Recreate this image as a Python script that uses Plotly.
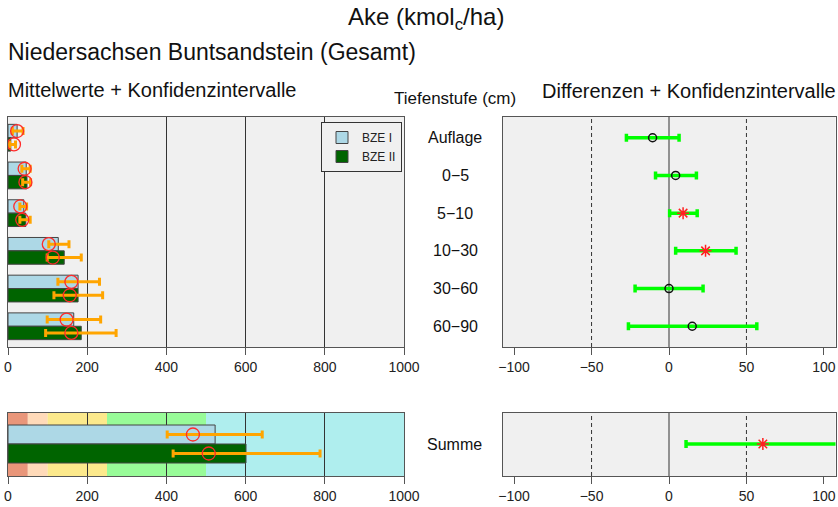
import plotly.graph_objects as go

# ---------------- data ----------------
depths = ["Auflage", "0−5", "5−10", "10−30", "30−60", "60−90"]
series_names = ["BZE I", "BZE II"]

# left panel: bar value, circle value, CI low / high
bze1_bar = [23, 46, 40, 127, 177, 166]
bze2_bar = [7, 48, 45, 142, 177, 185]
bze1_circle = [23, 42, 31, 103, 160, 148]
bze2_circle = [15, 44, 36, 113, 156, 160]
bze1_lo = [11, 35, 30, 103, 126, 99]
bze1_hi = [38, 56, 47, 154, 231, 234]
bze2_lo = [4, 37, 30, 99, 116, 95]
bze2_hi = [19, 57, 56, 185, 239, 273]

# sum ("Summe")
sum_label = "Summe"
sum_bar = [523, 601]
sum_circle = [467, 507]
sum_lo = [402, 417]
sum_hi = [642, 788]

# right panel: differences with CI
diff = [-10.6, 4.3, 9.1, 23.6, 0.0, 15.0]
diff_lo = [-27.5, -8.7, 0.4, 4.3, -21.9, -26.2]
diff_hi = [6.5, 17.7, 18.2, 43.3, 22.0, 56.7]
diff_sig = [False, False, True, True, False, False]
sum_diff = [60.6]
sum_diff_lo = [11.0]
sum_diff_hi = [115.0]

# background classes for the sum panel
band_edges = [0, 50, 100, 250, 500, 1000]
band_colors = ["#E9967A", "#FFDAB9", "#FCE98C", "#98FB98", "#AFEEEE"]

left_ticks = [0, 200, 400, 600, 800, 1000]
right_ticks = [-100, -50, 0, 50, 100]
ref_lines = [-50, 0, 50]

# ---------------- figure ----------------
W, H = 838, 507
FONT = "Liberation Sans, Arial, sans-serif"

def fx(p):
    return p / W

def fy(p):
    return 1 - p / H

col1 = "#ADD8E6"
col2 = "#006400"
ci_col = "#FFA500"
circ_col = "#FF2A2A"
green = "#00FF00"

rows = list(range(len(depths)))
bh = 0.355

fig = go.Figure()

# ---- top-left: bars
fig.add_trace(go.Bar(x=bze1_bar, y=rows, orientation="h", width=bh, offset=-bh,
                     marker=dict(color=col1, line=dict(color="#444", width=1)),
                     name=series_names[0], xaxis="x", yaxis="y", showlegend=True))
fig.add_trace(go.Bar(x=bze2_bar, y=rows, orientation="h", width=bh, offset=0,
                     marker=dict(color=col2, line=dict(color="#444", width=1)),
                     name=series_names[1], xaxis="x", yaxis="y", showlegend=True))

def ci_trace(xc, lo, hi, ys, xa, ya):
    return go.Scatter(
        x=xc, y=ys, mode="markers", xaxis=xa, yaxis=ya, showlegend=False,
        marker=dict(symbol="circle-open", size=13, color=circ_col,
                    line=dict(width=1.3, color=circ_col)),
        error_x=dict(type="data", symmetric=False,
                     array=[h - c for h, c in zip(hi, xc)],
                     arrayminus=[c - l for c, l in zip(xc, lo)],
                     color=ci_col, thickness=3, width=4))

fig.add_trace(ci_trace(bze1_circle, bze1_lo, bze1_hi, [r - bh / 2 for r in rows], "x", "y"))
fig.add_trace(ci_trace(bze2_circle, bze2_lo, bze2_hi, [r + bh / 2 for r in rows], "x", "y"))

# ---- bottom-left: sum bars
fig.add_trace(go.Bar(x=[sum_bar[0]], y=[0], orientation="h", width=1, offset=-1,
                     marker=dict(color=col1, line=dict(color="#444", width=1)),
                     name=series_names[0], xaxis="x2", yaxis="y2", showlegend=False))
fig.add_trace(go.Bar(x=[sum_bar[1]], y=[0], orientation="h", width=1, offset=0,
                     marker=dict(color=col2, line=dict(color="#444", width=1)),
                     name=series_names[1], xaxis="x2", yaxis="y2", showlegend=False))
fig.add_trace(ci_trace([sum_circle[0]], [sum_lo[0]], [sum_hi[0]], [-0.5], "x2", "y2"))
fig.add_trace(ci_trace([sum_circle[1]], [sum_lo[1]], [sum_hi[1]], [0.5], "x2", "y2"))

# ---- right panels: differences
def diff_trace(idx, xa, ya, dvals, lovals, hivals, yvals, sig):
    xs = [dvals[i] for i in idx]
    if sig:
        marker = dict(symbol="asterisk-open", size=10, color="#FF2020",
                      line=dict(width=1.5, color="#FF2020"))
    else:
        marker = dict(symbol="circle-open", size=8, color="#111",
                      line=dict(width=1.5, color="#111"))
    return go.Scatter(
        x=xs, y=[yvals[i] for i in idx], mode="markers", xaxis=xa, yaxis=ya,
        showlegend=False, marker=marker,
        error_x=dict(type="data", symmetric=False,
                     array=[hivals[i] - dvals[i] for i in idx],
                     arrayminus=[dvals[i] - lovals[i] for i in idx],
                     color=green, thickness=3.5, width=4))

ns = [i for i in rows if not diff_sig[i]]
sg = [i for i in rows if diff_sig[i]]
fig.add_trace(diff_trace(ns, "x3", "y3", diff, diff_lo, diff_hi, rows, False))
fig.add_trace(diff_trace(sg, "x3", "y3", diff, diff_lo, diff_hi, rows, True))
fig.add_trace(diff_trace([0], "x4", "y4", sum_diff, sum_diff_lo, sum_diff_hi, [0], True))

# ---------------- layout ----------------
common = dict(showline=True, mirror=True, linecolor="#555", linewidth=1,
              ticklen=7, tickcolor="#555", zeroline=False, automargin=False,
              tickfont=dict(size=14, color="#222", family=FONT), fixedrange=True)

top_dom = [fy(347), fy(117)]
bot_dom = [fy(476), fy(413)]
left_dom = [fx(8), fx(404)]
right_dom = [fx(502.5), fx(835.5)]
top_range = [5.55, -0.55]
bot_range = [(476 - 444) / 19, -(444 - 413) / 19]

def xax(dom, anchor, rng, tv, grid, tt=None):
    d = dict(domain=dom, anchor=anchor, range=rng, tickvals=tv, ticks="outside",
             showgrid=grid, gridcolor="#333", gridwidth=1, **common)
    if tt is not None:
        d["ticktext"] = tt
    return d

def yax(dom, anchor, rng):
    return dict(domain=dom, anchor=anchor, range=rng, showticklabels=False,
                ticks="", showgrid=False, **common)

minus_ticks = [str(t).replace("-", "−") for t in right_ticks]

fig.update_layout(
    width=W, height=H, autosize=False,
    margin=dict(l=0, r=0, t=0, b=0, pad=0),
    paper_bgcolor="white", plot_bgcolor="#F0F0F0",
    barmode="overlay",
    font=dict(family=FONT, color="#222"),
    xaxis=xax(left_dom, "y", [0, 1000], left_ticks, True),
    yaxis=yax(top_dom, "x", top_range),
    xaxis2=xax(left_dom, "y2", [0, 1000], left_ticks, True),
    yaxis2=yax(bot_dom, "x2", bot_range),
    xaxis3=xax(right_dom, "y3", [-107.5, 107.5], right_ticks, False, minus_ticks),
    yaxis3=yax(top_dom, "x3", top_range),
    xaxis4=xax(right_dom, "y4", [-107.5, 107.5], right_ticks, False, minus_ticks),
    yaxis4=yax(bot_dom, "x4", bot_range),
    legend=dict(x=fx(321), y=fy(122), xanchor="left", yanchor="top",
                bgcolor="#F0F0F0", bordercolor="#333", borderwidth=1,
                font=dict(size=12, color="#222", family=FONT), itemwidth=30,
                tracegroupgap=0),
)

shapes = []
for x0, x1, c in zip(band_edges[:-1], band_edges[1:], band_colors):
    shapes.append(dict(type="rect", xref="x2", yref="y2 domain", x0=x0, x1=x1, y0=0, y1=1,
                       fillcolor=c, line=dict(width=0), layer="below"))
for ya, xa in (("y3", "x3"), ("y4", "x4")):
    for v in ref_lines:
        shapes.append(dict(type="line", xref=xa, yref=ya + " domain", x0=v, x1=v, y0=0, y1=1,
                           line=dict(color="#333", width=1, dash="solid" if v == 0 else "4px,3px"),
                           layer="below"))
fig.update_layout(shapes=shapes)

ann = []
ann.append(dict(text="Ake (kmol<sub>c</sub>/ha)", x=fx(426), y=fy(19), xref="paper", yref="paper",
                xanchor="center", yanchor="middle", showarrow=False,
                font=dict(size=24, color="#111", family=FONT)))
ann.append(dict(text="Niedersachsen Buntsandstein (Gesamt)", x=fx(6), y=fy(52.5), xref="paper",
                yref="paper", xanchor="left", yanchor="middle", showarrow=False,
                font=dict(size=23, color="#111", family=FONT)))
ann.append(dict(text="Mittelwerte + Konfidenzintervalle", x=fx(6), y=fy(89.5), xref="paper",
                yref="paper", xanchor="left", yanchor="middle", showarrow=False,
                font=dict(size=20, color="#111", family=FONT)))
ann.append(dict(text="Tiefenstufe (cm)", x=fx(455), y=fy(98.5), xref="paper",
                yref="paper", xanchor="center", yanchor="middle", showarrow=False,
                font=dict(size=17, color="#111", family=FONT)))
ann.append(dict(text="Differenzen + Konfidenzintervalle", x=fx(838), y=fy(90.5), xref="paper",
                yref="paper", xanchor="right", yanchor="middle", showarrow=False,
                font=dict(size=20, color="#111", family=FONT)))
for i, d in enumerate(depths):
    ann.append(dict(text=d, x=fx(455), y=i, xref="paper", yref="y3", xanchor="center",
                    yanchor="middle", showarrow=False,
                    font=dict(size=16, color="#111", family=FONT)))
ann.append(dict(text=sum_label, x=fx(454), y=0, xref="paper", yref="y4", xanchor="center",
                yanchor="middle", showarrow=False, font=dict(size=16, color="#111", family=FONT)))
fig.update_layout(annotations=ann)

fig.write_html("out.html", config={"displayModeBar": False},
               post_script="document.body.style.margin='0';document.body.style.padding='0';")
